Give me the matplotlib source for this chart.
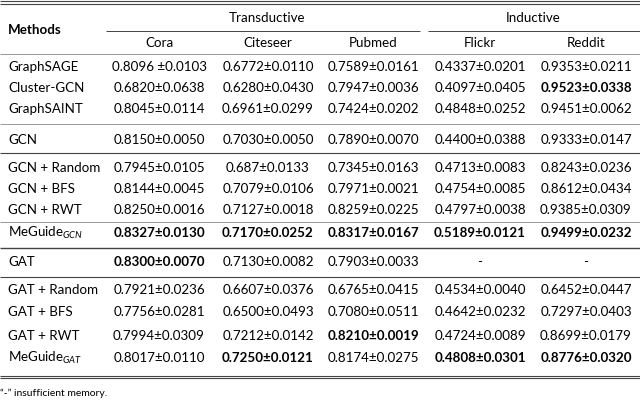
import matplotlib
matplotlib.use("Agg")
import matplotlib.pyplot as plt

plt.rcParams['font.family'] = ['Lato', 'DejaVu Sans']
plt.rcParams['mathtext.fontset'] = 'custom'
plt.rcParams['mathtext.it'] = 'Lato:italic'

datasets = ["Cora", "Citeseer", "Pubmed", "Flickr", "Reddit"]
methods = ["GraphSAGE", "Cluster-GCN", "GraphSAINT", "GCN", "GCN + Random", "GCN + BFS",
           "GCN + RWT", r"MeGuide$_{GCN}$", "GAT", "GAT + Random", "GAT + BFS", "GAT + RWT",
           r"MeGuide$_{GAT}$"]
values = [
    ["0.8096 ±0.0103", "0.6772±0.0110", "0.7589±0.0161", "0.4337±0.0201", "0.9353±0.0211"],
    ["0.6820±0.0638", "0.6280±0.0430", "0.7947±0.0036", "0.4097±0.0405", "0.9523±0.0338"],
    ["0.8045±0.0114", "0.6961±0.0299", "0.7424±0.0202", "0.4848±0.0252", "0.9451±0.0062"],
    ["0.8150±0.0050", "0.7030±0.0050", "0.7890±0.0070", "0.4400±0.0388", "0.9333±0.0147"],
    ["0.7945±0.0105", "0.687±0.0133", "0.7345±0.0163", "0.4713±0.0083", "0.8243±0.0236"],
    ["0.8144±0.0045", "0.7079±0.0106", "0.7971±0.0021", "0.4754±0.0085", "0.8612±0.0434"],
    ["0.8250±0.0016", "0.7127±0.0018", "0.8259±0.0225", "0.4797±0.0038", "0.9385±0.0309"],
    ["0.8327±0.0130", "0.7170±0.0252", "0.8317±0.0167", "0.5189±0.0121", "0.9499±0.0232"],
    ["0.8300±0.0070", "0.7130±0.0082", "0.7903±0.0033", "-", "-"],
    ["0.7921±0.0236", "0.6607±0.0376", "0.6765±0.0415", "0.4534±0.0040", "0.6452±0.0447"],
    ["0.7756±0.0281", "0.6500±0.0493", "0.7080±0.0511", "0.4642±0.0232", "0.7297±0.0403"],
    ["0.7994±0.0309", "0.7212±0.0142", "0.8210±0.0019", "0.4724±0.0089", "0.8699±0.0179"],
    ["0.8017±0.0110", "0.7250±0.0121", "0.8174±0.0275", "0.4808±0.0301", "0.8776±0.0320"],
]
bold = [
    [0]*5, [0, 0, 0, 0, 1], [0]*5, [0]*5, [0]*5, [0]*5, [0]*5, [1]*5,
    [1, 0, 0, 0, 0], [0]*5, [0]*5, [0, 0, 1, 0, 0], [0, 1, 0, 1, 1],
]

fig = plt.figure(figsize=(6.4, 4.0), dpi=100)
ax = fig.add_axes([0, 0, 1, 1])
ax.set_xlim(0, 640)
ax.set_ylim(400, 0)
ax.axis('off')

fs = 9.6
col_x = [159, 268, 373, 480, 586]
row_y = [67, 88, 109, 140, 168, 189, 210, 233, 262, 290, 312, 336, 358]

ax.text(8, 30, "Methods", fontsize=fs, fontweight='bold', va='center', ha='left')
ax.text(267, 18, "Transductive", fontsize=fs, va='center', ha='center')
ax.text(533, 18, "Inductive", fontsize=fs, va='center', ha='center')
for x, d in zip(col_x, datasets):
    ax.text(x, 43, d, fontsize=fs, va='center', ha='center')
for y, m, vals, bs in zip(row_y, methods, values, bold):
    ax.text(8, y, m, fontsize=fs, va='center', ha='left')
    for x, v, b in zip(col_x, vals, bs):
        ax.text(x, y, v, fontsize=fs, va='center', ha='center',
                fontweight='bold' if b else 'normal')
ax.text(0, 393, "\u201c-\u201d insufficient memory.", fontsize=7.5, va='center', ha='left')

c = '#444444'
def hl(y, x0=0, x1=640, lw=0.8, col=c):
    ax.plot([x0, x1], [y, y], color=col, lw=lw, solid_capstyle='butt')
hl(1); hl(3.5)
hl(31, 106, 420, 0.7); hl(31, 428, 640, 0.7)
hl(54, lw=0.6, col='#888888')
hl(124, lw=0.6, col='#888888')
hl(153, lw=0.8)
hl(222, lw=0.6, col='#888888')
hl(248, lw=1.0)
hl(277, lw=0.8)
hl(375.5); hl(378)

fig.savefig("out.png", dpi=100)
